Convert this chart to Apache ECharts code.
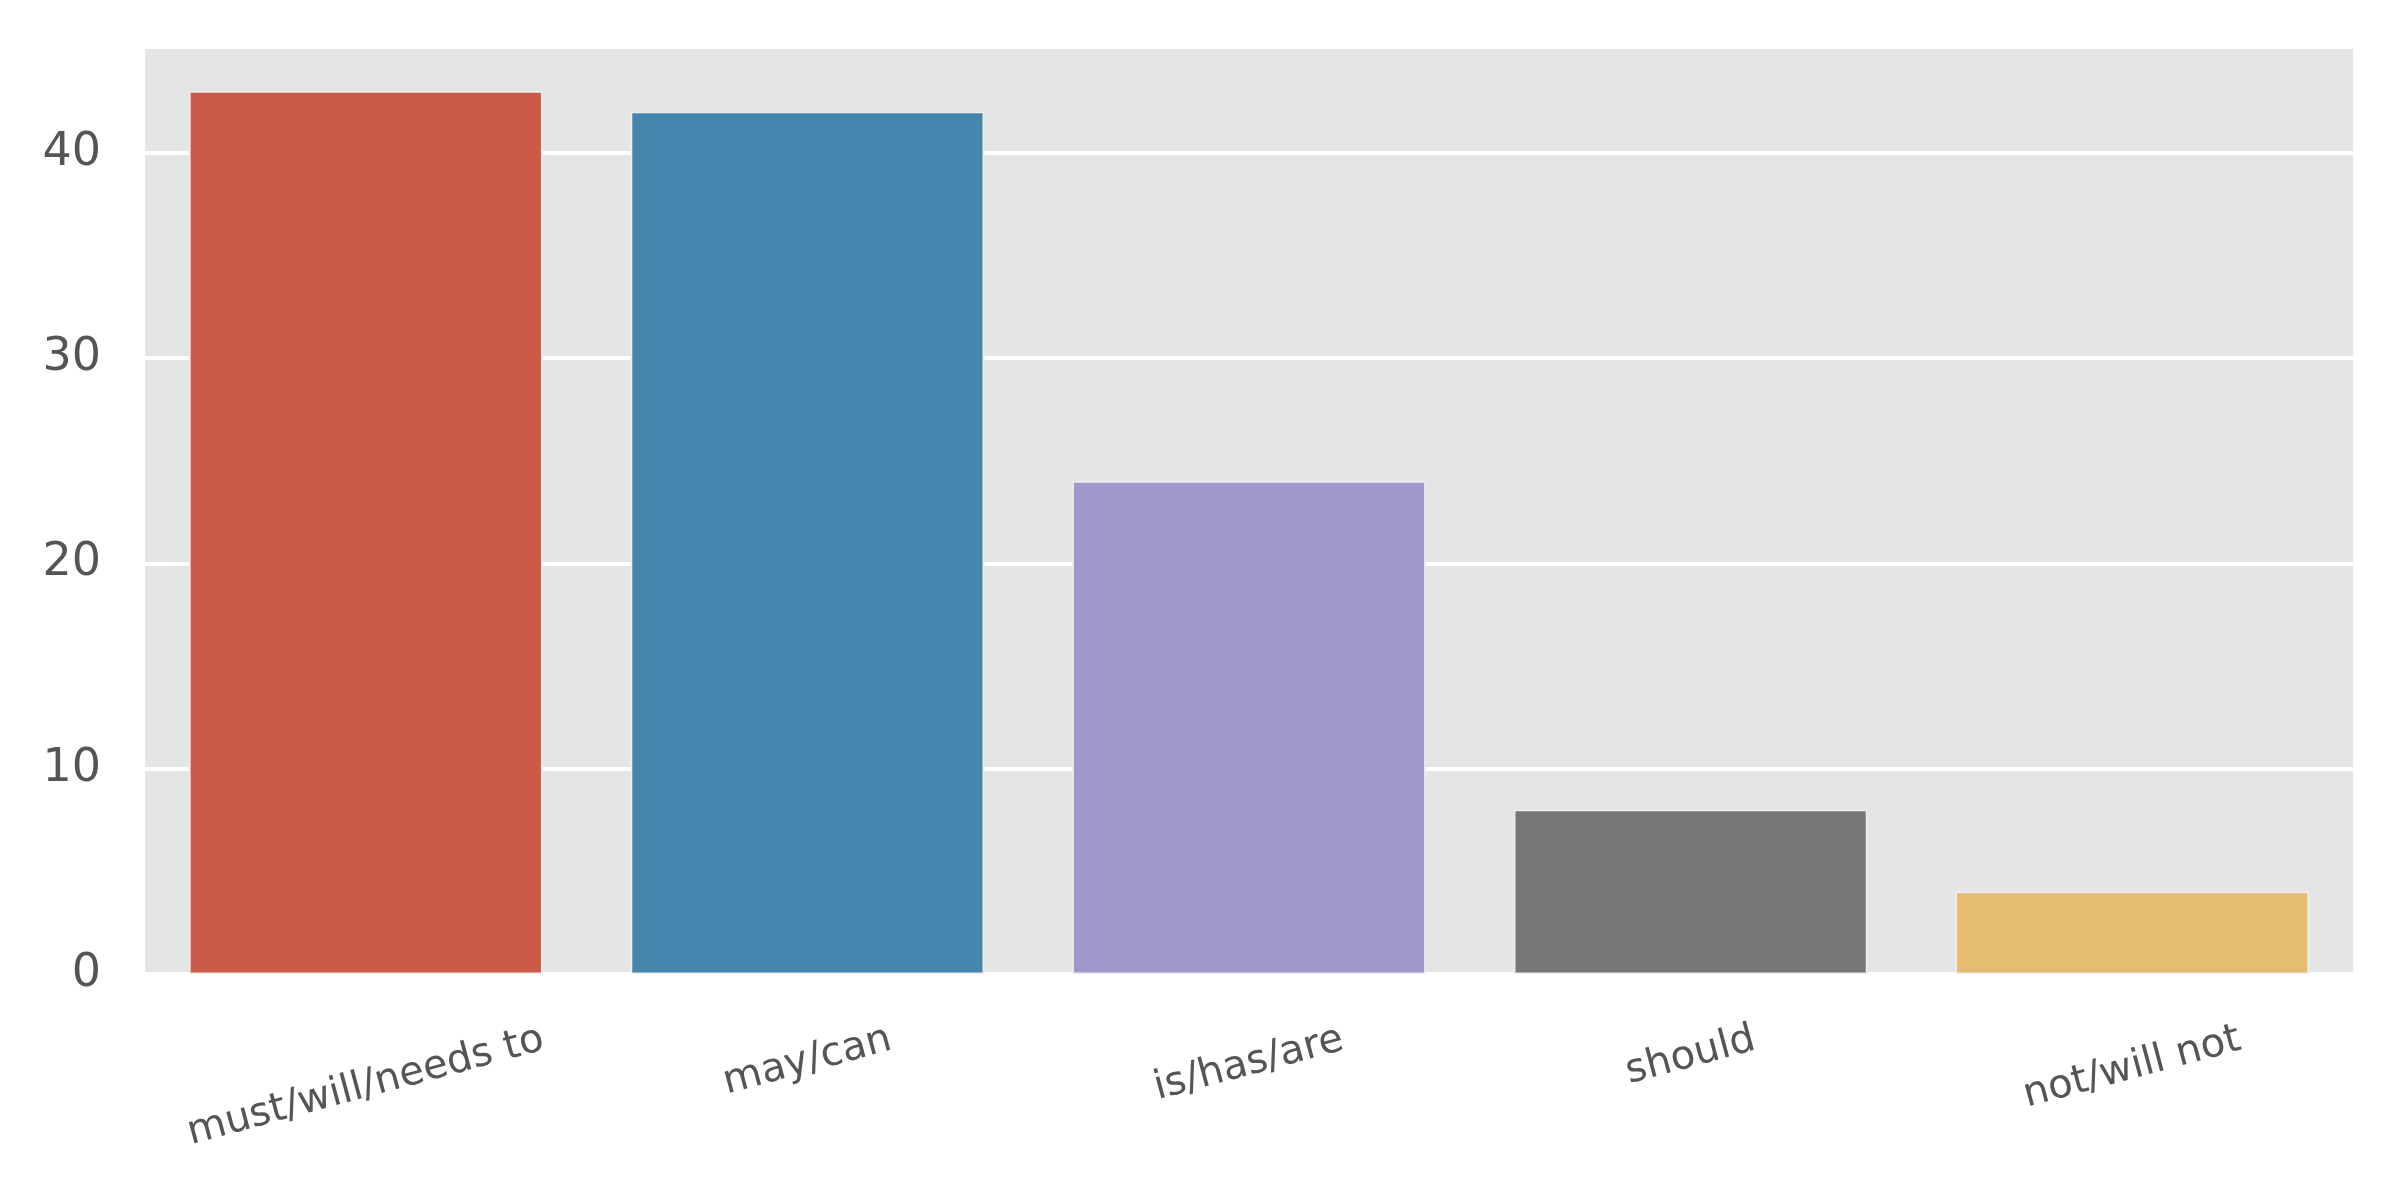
<html>
<head>
    <meta charset="utf-8">
    <script src="https://cdn.jsdelivr.net/npm/echarts@6/dist/echarts.min.js"></script>
    <style>
        body { margin: 0; background: #fff; }
        #main { width: 2400px; height: 1200px; }
    </style>
</head>
<body>
    <div id="main"></div>
    <script>
        // data
        var categories = ['must/will/needs to', 'may/can', 'is/has/are', 'should', 'not/will not'];
        var counts = [43, 42, 24, 8, 4];
        var barColors = ['#cb5b48', '#4586ac', '#9e98cb', '#777777', '#e6bb72'];
        var yTicks = [0, 10, 20, 30, 40];

        var labelFont = 40;
        var rot = 15 * Math.PI / 180;

        // matplotlib puts the top of each rotated label at the same height,
        // ECharts centres them on one point -> shift longer labels down
        // using a blank first line (height) and a blank tail (width)
        var ctx = document.createElement('canvas').getContext('2d');
        ctx.font = labelFont + 'px "DejaVu Sans"';

        var rich = {
            t: { fontSize: labelFont, fontFamily: 'DejaVu Sans', color: '#555555', lineHeight: 46 }
        };
        categories.forEach(function (name, i) {
            var w = ctx.measureText(name).width;
            var e = w * Math.sin(rot) / 2;
            rich['v' + i] = { height: 2 * e * Math.cos(rot), lineHeight: 2 * e * Math.cos(rot), fontSize: 1 };
            rich['h' + i] = { width: 2 * e * Math.sin(rot), fontSize: 1 };
        });

        var myChart = echarts.init(document.getElementById('main'));

        var option = {
            animation: false,
            grid: {
                left: 145,
                right: 47,
                top: 47,
                bottom: 226,
                show: true,
                backgroundColor: '#e5e5e5',
                borderWidth: 0,
                outerBoundsMode: 'none'
            },
            xAxis: {
                type: 'category',
                data: categories,
                axisLine: { show: false },
                axisTick: { show: false },
                axisLabel: {
                    interval: 0,
                    rotate: 15,
                    align: 'center',
                    verticalAlign: 'middle',
                    margin: 65,
                    fontSize: labelFont,
                    fontFamily: 'DejaVu Sans',
                    color: '#555555',
                    formatter: function (value, idx) {
                        return '{v' + idx + '| }\n{t|' + value + '}{h' + idx + '| }';
                    },
                    rich: rich
                }
            },
            yAxis: {
                type: 'value',
                min: yTicks[0],
                max: 45.15,
                interval: yTicks[1] - yTicks[0],
                axisLine: { show: false },
                axisTick: { show: false },
                splitLine: { lineStyle: { color: '#ffffff', width: 4 } },
                axisLabel: {
                    showMaxLabel: false,
                    margin: 44,
                    fontSize: 46,
                    fontFamily: 'DejaVu Sans',
                    color: '#555555',
                    formatter: function (v) {
                        return yTicks.indexOf(v) >= 0 ? String(v) : '';
                    }
                }
            },
            series: [{
                type: 'bar',
                barCategoryGap: '20%',
                data: counts.map(function (v, i) {
                    return { value: v, itemStyle: { color: barColors[i] } };
                }),
                itemStyle: { borderColor: '#eeeeee', borderWidth: 1.5 }
            }]
        };
        myChart.setOption(option);
    </script>
</body>
</html>
